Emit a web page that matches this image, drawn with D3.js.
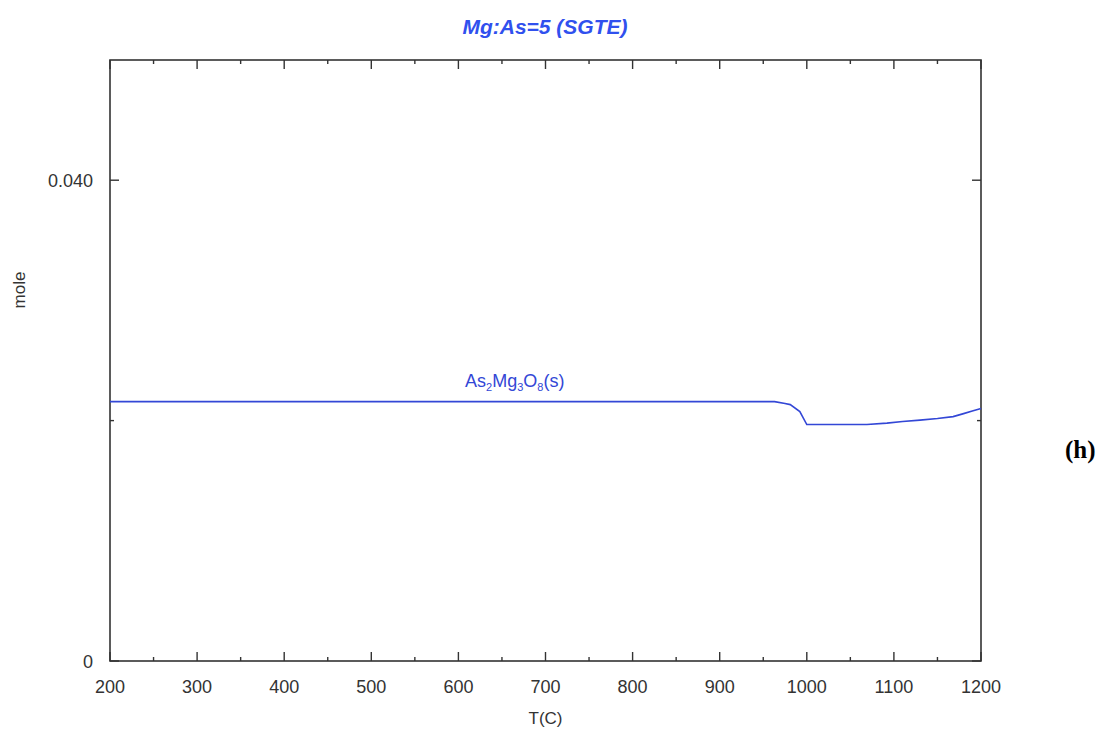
<!DOCTYPE html>
<html>
<head>
<meta charset="utf-8">
<script src="https://cdn.jsdelivr.net/npm/d3@7"></script>
<style>
  body { margin: 0; background: #fff; }
  svg text { font-family: "Liberation Sans", Arial, sans-serif; }
</style>
</head>
<body>
<div id="chart"></div>
<script>

// температура, C
var temps = [200, 400, 600, 800, 963, 975, 981, 992, 1000, 1020, 1069, 1092, 1110, 1130, 1150, 1168, 1180, 1190, 1200];
// As2Mg3O8(s), моль
var moles = [0.02158, 0.02158, 0.02158, 0.02158, 0.02158, 0.02142, 0.02133, 0.02075, 0.01967, 0.01967, 0.01967, 0.01979, 0.01992, 0.02004, 0.02017, 0.02033, 0.02058, 0.02079, 0.02100];

var xTicks = [200, 300, 400, 500, 600, 700, 800, 900, 1000, 1100, 1200];
var xMinor = d3.range(250, 1200, 100);
var yLabelled = [0, 0.04];
var yMinor = [0.02];

var width = 1107, height = 733;
var margin = {top: 60, right: 126, bottom: 72, left: 110};

var svg = d3.select("#chart").append("svg")
    .attr("width", width)
    .attr("height", height);

var x = d3.scaleLinear().domain([200, 1200]).range([margin.left, width - margin.right]);
var y = d3.scaleLinear().domain([0, 0.05]).range([height - margin.bottom, margin.top]);

var x0 = x.range()[0], x1 = x.range()[1], y0 = y.range()[0], y1 = y.range()[1];

// рамка
svg.append("rect")
    .attr("x", x0).attr("y", y1)
    .attr("width", x1 - x0).attr("height", y0 - y1)
    .style("fill", "none")
    .style("stroke", "#333")
    .style("stroke-width", 1.6);

var ticks = svg.append("g").style("stroke", "#333").style("stroke-width", 1.4);

// тіки по x - зверху і знизу, всередину
xTicks.forEach(function(t) {
    ticks.append("line").attr("x1", x(t)).attr("x2", x(t)).attr("y1", y0).attr("y2", y0 - 9);
    ticks.append("line").attr("x1", x(t)).attr("x2", x(t)).attr("y1", y1).attr("y2", y1 + 9);
});
xMinor.forEach(function(t) {
    ticks.append("line").attr("x1", x(t)).attr("x2", x(t)).attr("y1", y0).attr("y2", y0 - 4);
    ticks.append("line").attr("x1", x(t)).attr("x2", x(t)).attr("y1", y1).attr("y2", y1 + 4);
});
yLabelled.forEach(function(t) {
    ticks.append("line").attr("x1", x0).attr("x2", x0 + 9).attr("y1", y(t)).attr("y2", y(t));
    ticks.append("line").attr("x1", x1).attr("x2", x1 - 9).attr("y1", y(t)).attr("y2", y(t));
});
yMinor.forEach(function(t) {
    ticks.append("line").attr("x1", x0).attr("x2", x0 + 4).attr("y1", y(t)).attr("y2", y(t));
    ticks.append("line").attr("x1", x1).attr("x2", x1 - 4).attr("y1", y(t)).attr("y2", y(t));
});

// підписи осей
svg.append("g").selectAll("text")
    .data(xTicks)
    .enter().append("text")
    .attr("x", function(d) { return x(d); })
    .attr("y", y0 + 32)
    .attr("text-anchor", "middle")
    .style("font-size", "18px")
    .style("fill", "#333")
    .text(function(d) { return d; });

svg.append("g").selectAll("text")
    .data(yLabelled)
    .enter().append("text")
    .attr("x", x0 - 17)
    .attr("y", function(d) { return y(d) + 7; })
    .attr("text-anchor", "end")
    .style("font-size", "18px")
    .style("fill", "#333")
    .text(function(d) { return d === 0 ? "0" : d3.format(".3f")(d); });

svg.append("text")
    .attr("x", (x0 + x1) / 2)
    .attr("y", 724)
    .attr("text-anchor", "middle")
    .style("font-size", "17px")
    .style("fill", "#333")
    .text("T(C)");

svg.append("text")
    .attr("transform", "translate(25," + 290 + ") rotate(-90)")
    .attr("text-anchor", "middle")
    .style("font-size", "17px")
    .style("fill", "#333")
    .text("mole");

svg.append("text")
    .attr("x", 545)
    .attr("y", 34)
    .attr("text-anchor", "middle")
    .style("font-size", "21px")
    .style("font-weight", "bold")
    .style("font-style", "italic")
    .style("fill", "#3050ee")
    .text("Mg:As=5 (SGTE)");

// крива
var line = d3.line()
    .x(function(d) { return x(d[0]); })
    .y(function(d) { return y(d[1]); });

svg.append("path")
    .datum(d3.zip(temps, moles))
    .attr("d", line)
    .style("fill", "none")
    .style("stroke", "#3347d6")
    .style("stroke-width", 1.6);

var lbl = svg.append("text")
    .attr("x", 465)
    .attr("y", 387)
    .style("font-size", "18px")
    .style("fill", "#3347d6");
lbl.append("tspan").text("As");
lbl.append("tspan").attr("dy", 4).style("font-size", "11px").text("2");
lbl.append("tspan").attr("dy", -4).text("Mg");
lbl.append("tspan").attr("dy", 4).style("font-size", "11px").text("3");
lbl.append("tspan").attr("dy", -4).text("O");
lbl.append("tspan").attr("dy", 4).style("font-size", "11px").text("8");
lbl.append("tspan").attr("dy", -4).text("(s)");

svg.append("text")
    .attr("x", 1065)
    .attr("y", 458)
    .style("font-family", "'Liberation Serif', 'Times New Roman', serif")
    .style("font-size", "25px")
    .style("font-weight", "bold")
    .style("fill", "#000")
    .text("(h)");

</script>
</body>
</html>
